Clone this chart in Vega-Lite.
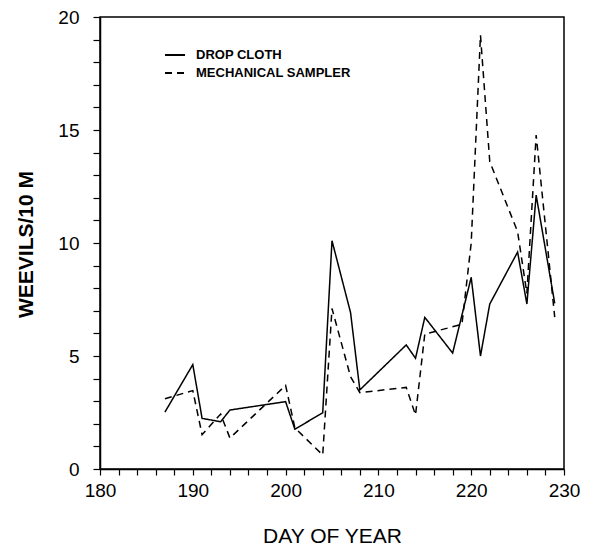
{
  "$schema": "https://vega.github.io/schema/vega-lite/v6.json",
  "width": 464,
  "height": 452,
  "autosize": {"type": "none"},
  "padding": {"left": 100, "top": 17, "right": 30, "bottom": 79},
  "background": "white",
  "config": {
    "font": "Liberation Sans",
    "view": {"stroke": "black", "strokeWidth": 1.5}
  },
  "data": {
    "values": [
      {"day": 187, "value": 2.52, "method": "DROP CLOTH"},
      {"day": 190, "value": 4.62, "method": "DROP CLOTH"},
      {"day": 191, "value": 2.24, "method": "DROP CLOTH"},
      {"day": 193, "value": 2.09, "method": "DROP CLOTH"},
      {"day": 194, "value": 2.61, "method": "DROP CLOTH"},
      {"day": 200, "value": 2.98, "method": "DROP CLOTH"},
      {"day": 201, "value": 1.76, "method": "DROP CLOTH"},
      {"day": 204, "value": 2.49, "method": "DROP CLOTH"},
      {"day": 205, "value": 10.1, "method": "DROP CLOTH"},
      {"day": 207, "value": 6.92, "method": "DROP CLOTH"},
      {"day": 208, "value": 3.5, "method": "DROP CLOTH"},
      {"day": 213, "value": 5.49, "method": "DROP CLOTH"},
      {"day": 214, "value": 4.9, "method": "DROP CLOTH"},
      {"day": 215, "value": 6.71, "method": "DROP CLOTH"},
      {"day": 218, "value": 5.13, "method": "DROP CLOTH"},
      {"day": 220, "value": 8.48, "method": "DROP CLOTH"},
      {"day": 221, "value": 5.0, "method": "DROP CLOTH"},
      {"day": 222, "value": 7.3, "method": "DROP CLOTH"},
      {"day": 225, "value": 9.6, "method": "DROP CLOTH"},
      {"day": 226, "value": 7.3, "method": "DROP CLOTH"},
      {"day": 227, "value": 12.12, "method": "DROP CLOTH"},
      {"day": 229, "value": 7.33, "method": "DROP CLOTH"},
      {"day": 187, "value": 3.11, "method": "MECHANICAL SAMPLER"},
      {"day": 190, "value": 3.47, "method": "MECHANICAL SAMPLER"},
      {"day": 191, "value": 1.52, "method": "MECHANICAL SAMPLER"},
      {"day": 193, "value": 2.43, "method": "MECHANICAL SAMPLER"},
      {"day": 194, "value": 1.37, "method": "MECHANICAL SAMPLER"},
      {"day": 200, "value": 3.7, "method": "MECHANICAL SAMPLER"},
      {"day": 201, "value": 1.82, "method": "MECHANICAL SAMPLER"},
      {"day": 204, "value": 0.62, "method": "MECHANICAL SAMPLER"},
      {"day": 205, "value": 7.1, "method": "MECHANICAL SAMPLER"},
      {"day": 207, "value": 4.08, "method": "MECHANICAL SAMPLER"},
      {"day": 208, "value": 3.38, "method": "MECHANICAL SAMPLER"},
      {"day": 213, "value": 3.61, "method": "MECHANICAL SAMPLER"},
      {"day": 214, "value": 2.39, "method": "MECHANICAL SAMPLER"},
      {"day": 215, "value": 5.97, "method": "MECHANICAL SAMPLER"},
      {"day": 219, "value": 6.4, "method": "MECHANICAL SAMPLER"},
      {"day": 220, "value": 10.0, "method": "MECHANICAL SAMPLER"},
      {"day": 221, "value": 19.2, "method": "MECHANICAL SAMPLER"},
      {"day": 222, "value": 13.6, "method": "MECHANICAL SAMPLER"},
      {"day": 225, "value": 10.5, "method": "MECHANICAL SAMPLER"},
      {"day": 226, "value": 7.77, "method": "MECHANICAL SAMPLER"},
      {"day": 227, "value": 14.78, "method": "MECHANICAL SAMPLER"},
      {"day": 229, "value": 6.72, "method": "MECHANICAL SAMPLER"}
    ]
  },
  "mark": {"type": "line", "color": "black", "strokeWidth": 1.5},
  "encoding": {
    "x": {
      "field": "day",
      "type": "quantitative",
      "scale": {"domain": [180, 230], "nice": false, "zero": false},
      "axis": {
        "title": "DAY OF YEAR",
        "values": [180,182,184,186,188,190,192,194,196,198,200,202,204,206,208,210,212,214,216,218,220,222,224,226,228,230],
        "labelExpr": "datum.value % 10 === 0 ? datum.label : ''",
        "grid": false,
        "domainColor": "black",
        "domainWidth": 1.5,
        "tickColor": "black",
        "tickWidth": 1.2,
        "tickSize": 6,
        "labelPadding": 6,
        "labelFontSize": 19,
        "labelColor": "black",
        "labelFlush": false,
        "labelOverlap": false,
        "titleFontSize": 21,
        "titleFontWeight": "normal",
        "titleColor": "black",
        "titleX": 232,
        "titleY": 67,
        "titleBaseline": "middle",
        "titleAlign": "center"
      }
    },
    "y": {
      "field": "value",
      "type": "quantitative",
      "scale": {"domain": [0, 20], "nice": false},
      "axis": {
        "title": "WEEVILS/10 M",
        "values": [0,1,2,3,4,5,6,7,8,9,10,11,12,13,14,15,16,17,18,19,20],
        "labelExpr": "datum.value % 5 === 0 ? datum.label : ''",
        "grid": false,
        "domainColor": "black",
        "domainWidth": 1.5,
        "tickColor": "black",
        "tickWidth": 1.2,
        "tickSize": 7,
        "labelPadding": 14,
        "labelFontSize": 19,
        "labelColor": "black",
        "labelFlush": false,
        "labelOverlap": false,
        "titleFontSize": 21,
        "titleFontWeight": "bold",
        "titleColor": "black",
        "titleAngle": -90,
        "titleX": -74,
        "titleY": 227,
        "titleBaseline": "middle",
        "titleAlign": "center"
      }
    },
    "strokeDash": {
      "field": "method",
      "type": "nominal",
      "scale": {"domain": ["DROP CLOTH", "MECHANICAL SAMPLER"], "range": [[1, 0], [7, 5]]},
      "legend": {
        "title": null,
        "orient": "none",
        "legendX": 64,
        "legendY": 27,
        "symbolType": "stroke",
        "symbolSize": 400,
        "symbolStrokeColor": "black",
        "symbolStrokeWidth": 1.8,
        "labelFontSize": 13,
        "labelFontWeight": "bold",
        "labelColor": "black",
        "labelOffset": 10,
        "rowPadding": 0,
        "padding": 0
      }
    }
  }
}
